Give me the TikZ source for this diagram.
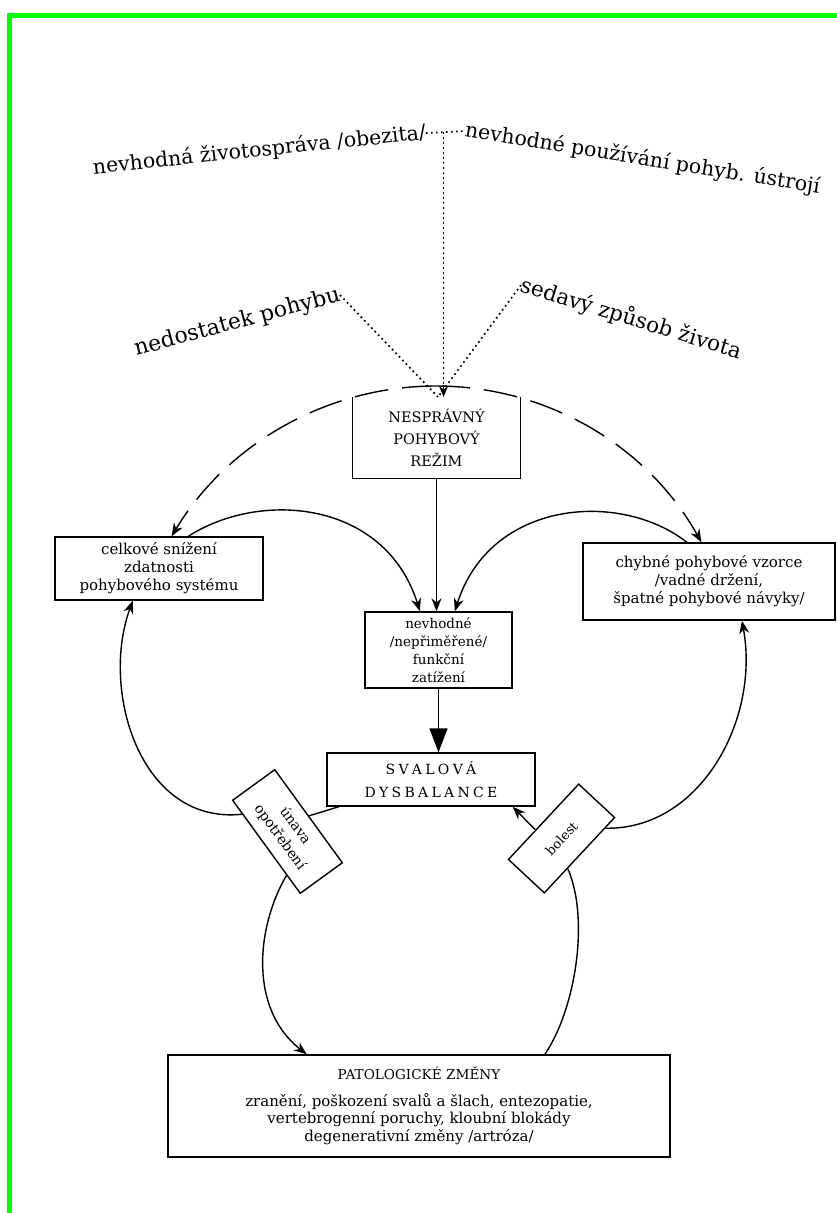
\documentclass[tikz,border=0pt]{standalone}
\usepackage{fontspec}
\setmainfont{DejaVu Serif}
\usetikzlibrary{arrows.meta,calc}
\newcommand{\lsp}{\kern3.3pt}
\begin{document}
\begin{tikzpicture}[x=1pt,y=1pt,
  box/.style={draw,line width=1.4pt,inner sep=0pt,align=center},
  tip/.style={-{Stealth[length=13pt,width=10pt]}},
  conn/.style={line width=1.4pt,tip},
  plain/.style={line width=1.4pt},
  dots/.style={line width=1.7pt,dash pattern=on 1.7pt off 3.3pt},
  dlong/.style={line width=1.4pt,dash pattern=on 34pt off 14pt,tip},
  lbl/.style={inner sep=0pt}]
\useasboundingbox (0,0) rectangle (837,-1213);
\fill[white] (0,0) rectangle (837,-1213);
\fill[green] (7,-13) rectangle (837,-18);
\fill[green] (7,-13) rectangle (12,-1213);

% boxes
\node[box,draw=none,minimum width=167pt,minimum height=80pt,font=\fontsize{14.5}{22}\selectfont] (ns) at (436.5,-438) {NESPRÁVNÝ\\POHYBOVÝ\\REŽIM};
\draw[plain] (ns.north west) -- (ns.south west) -- (ns.south east) -- (ns.north east);
\node[box,minimum width=208pt,minimum height=63pt,font=\fontsize{15}{18}\selectfont] (lb) at (159,-568.5) {celkové snížení\\zdatnosti\\pohybového systému};
\node[box,minimum width=252pt,minimum height=77pt,font=\fontsize{15}{18}\selectfont] (rb) at (709,-581.5) {chybné pohybové vzorce\\/vadné držení,\\špatné pohybové návyky/};
\node[box,minimum width=147pt,minimum height=76pt,font=\fontsize{13.5}{18}\selectfont] (mb) at (438.5,-650) {nevhodné\\/nepřiměřené/\\funkční\\zatížení};
\node[box,minimum width=208pt,minimum height=53pt,font=\fontsize{14}{23}\selectfont] (sv) at (431,-779.5) {S\lsp V\lsp A\lsp L\lsp O\lsp V\lsp Á\\D\lsp Y\lsp S\lsp B\lsp A\lsp L\lsp A\lsp N\lsp C\lsp E};
\node[box,minimum width=115pt,minimum height=52pt,rotate=-54,font=\fontsize{14}{19}\selectfont] (un) at (287.5,-831.5) {únava\\opotřebení};
\node[box,minimum width=103pt,minimum height=49pt,rotate=47,font=\fontsize{13}{15}\selectfont] (bo) at (561.5,-838.5) {bolest};
\node[box,minimum width=502pt,minimum height=102pt,font=\fontsize{15}{17.5}\selectfont] (pz) at (419,-1106) {{\fontsize{13.6}{17}\selectfont PATOLOGICKÉ ZMĚNY}\\[9pt]zranění, poškození svalů a šlach, entezopatie,\\vertebrogenní poruchy, kloubní blokády\\degenerativní změny /artróza/};

% top labels
\node[lbl,anchor=east,rotate=6,font=\fontsize{20.5}{24}\selectfont] (t1) at (426,-133) {nevhodná životospráva /obezita/};
\node[lbl,anchor=west,rotate=-9,font=\fontsize{20.5}{24}\selectfont] (t2) at (465,-131) {nevhodné používání pohyb. ústrojí};
\node[lbl,anchor=east,rotate=15,font=\fontsize{22}{26}\selectfont] (t3) at (340,-295) {nedostatek pohybu};
\node[lbl,anchor=west,rotate=-17,font=\fontsize{21.5}{26}\selectfont] (t4) at (521,-285) {sedavý způsob života};

% dotted connectors
\coordinate (conv) at (438,-397);
\coordinate (tm) at ($(t1.east)!0.45!(t2.west)$);
\draw[dots] (t1.east) -- (t2.west);
\draw[dots] (tm) -- (tm |- conv);
\draw[line width=1.3pt,-{Stealth[length=11pt,width=9pt]}] ($(tm |- conv)+(0,12)$) -- (tm |- conv);
\draw[dots] (t3.east) -- (conv);
\draw[dots] (t4.west) -- (conv);

% dashed arc
\coordinate (arcT) at (436,-386);
\coordinate (arcL) at ($(lb.north west)!0.56!(lb.north east)$);
\coordinate (arcR) at ($(rb.north west)!0.47!(rb.north east)$);
\draw[dlong] (arcT) .. controls (328,-386) and (228,-443) .. (arcL);
\draw[dlong] (arcT) .. controls (546,-386) and (647,-445) .. (arcR);

% curved arrows to middle box
\draw[conn] ($(lb.north west)!0.64!(lb.north east)$) .. controls (260,-490) and (385,-500) .. ($(mb.north west)!0.375!(mb.north east)$);
\draw[conn] ($(rb.north west)!0.413!(rb.north east)$) .. controls (620,-490) and (490,-500) .. ($(mb.north west)!0.61!(mb.north east)$);
\draw[conn] (ns.south) -- (ns.south |- mb.north);
\draw[line width=1.4pt,-{Triangle[length=24pt,width=18pt]}] (mb.south) -- (mb.south |- sv.north);

% lower loops
\draw[plain] ($(sv.south west)!0.06!(sv.south east)$) -- ($(un.north west)!0.5!(un.north east)$);
\draw[conn] ($(un.south west)!0.15!(un.south east)$) .. controls (140,-825) and (100,-690) .. ($(lb.south west)!0.375!(lb.south east)$);
\draw[conn] ($(un.south west)!0.8!(un.south east)$) .. controls (255,-930) and (250,-1010) .. ($(pz.north west)!0.277!(pz.north east)$);
\draw[plain] ($(pz.north west)!0.75!(pz.north east)$) .. controls (575,-1010) and (590,-920) .. ($(bo.south west)!0.33!(bo.south east)$);
\draw[conn] ($(bo.north west)!0.39!(bo.north east)$) -- ($(sv.south west)!0.89!(sv.south east)$);
\draw[conn] ($(bo.south west)!0.86!(bo.south east)$) .. controls (700,-830) and (760,-720) .. ($(rb.south west)!0.63!(rb.south east)$);
\end{tikzpicture}
\end{document}
